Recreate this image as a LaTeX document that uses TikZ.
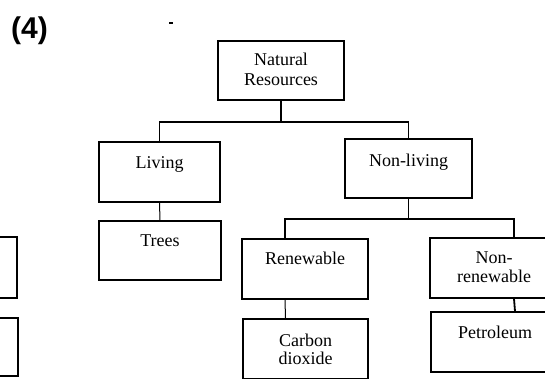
\documentclass[tikz,border=0pt]{standalone}
\usepackage{fontspec}
\setmainfont{Liberation Serif}
\newfontfamily\hdfont{Liberation Sans}
\begin{document}
\begin{tikzpicture}[x=1pt,y=-1pt,
  box/.style={draw, line width=1.6pt, rectangle, inner sep=0pt},
  lbl/.style={font=\fontsize{18}{20}\selectfont, inner sep=0pt, anchor=base},
  ln/.style={line width=1.8pt},
  thin ln/.style={line width=1pt}]
\useasboundingbox (0,0) rectangle (545,379);

% heading
\node[font=\hdfont\bfseries\fontsize{30}{32}\selectfont, anchor=base west, inner sep=0pt] (num) at (11,39) {(4)};
\draw[line width=2pt] (169,23) -- (173,23);

% boxes
\node[box, minimum width=126pt, minimum height=59pt] (nr) at (281,70.5) {};
\node[box, minimum width=121pt, minimum height=60pt] (living) at (159.5,172) {};
\node[box, minimum width=127pt, minimum height=59pt] (nonliving) at (408.5,168.5) {};
\node[box, minimum width=122pt, minimum height=59pt] (trees) at (160,250.5) {};
\node[box, minimum width=126pt, minimum height=60pt] (renew) at (305,269) {};
\node[box, minimum width=128pt, minimum height=60pt] (nonren) at (494,268) {};
\node[box, minimum width=125pt, minimum height=60pt] (carbon) at (305.5,349) {};
\node[box, minimum width=128pt, minimum height=60pt] (petrol) at (495,342) {};
\node[box, minimum width=117pt, minimum height=61pt] (lefta) at (-41.5,267.5) {};
\node[box, minimum width=118pt, minimum height=58pt] (leftb) at (-41,347) {};

% labels
\node[lbl] (t1a) at ([yshift=-25pt]nr.north) {Natural};
\node[lbl] (t1b) at ([yshift=-45pt]nr.north) {Resources};
\node[lbl] (t2) at ([yshift=-27pt]living.north) {Living};
\node[lbl] (t3) at ([yshift=-28pt]nonliving.north) {Non-living};
\node[lbl] (t4) at ([yshift=-26pt]trees.north) {Trees};
\node[lbl] (t5) at ([yshift=-26pt]renew.north) {Renewable};
\node[lbl] (t6a) at ([yshift=-26pt]nonren.north) {Non-};
\node[lbl] (t6b) at ([yshift=-45pt]nonren.north) {renewable};
\node[lbl] (t7a) at ([yshift=-28pt]carbon.north) {Carbon};
\node[lbl] (t7b) at ([yshift=-46pt]carbon.north) {dioxide};
\node[lbl] (t8) at ([yshift=-27pt]petrol.north) {Petroleum};

% connectors
\coordinate (j1) at ([yshift=-21pt]nr.south);
\draw[ln] (nr.south) -- (j1) -| (living.north);
\draw[ln] (j1) -| (nonliving.north);
\draw[thin ln] (living.south) -- (trees.north);
\coordinate (j2) at ([yshift=-20pt]nonliving.south);
\draw[ln] (nonliving.south) -- (j2);
\draw[ln] (j2) -| ([xshift=-20pt]renew.north);
\draw[ln] (j2) -| ([xshift=20pt]nonren.north);
\draw[thin ln] ([xshift=-20pt]renew.south) -- ([xshift=-20pt]carbon.north);
\draw[ln] ([xshift=20pt]nonren.south) -- ([xshift=20pt]petrol.north);
\end{tikzpicture}
\end{document}
